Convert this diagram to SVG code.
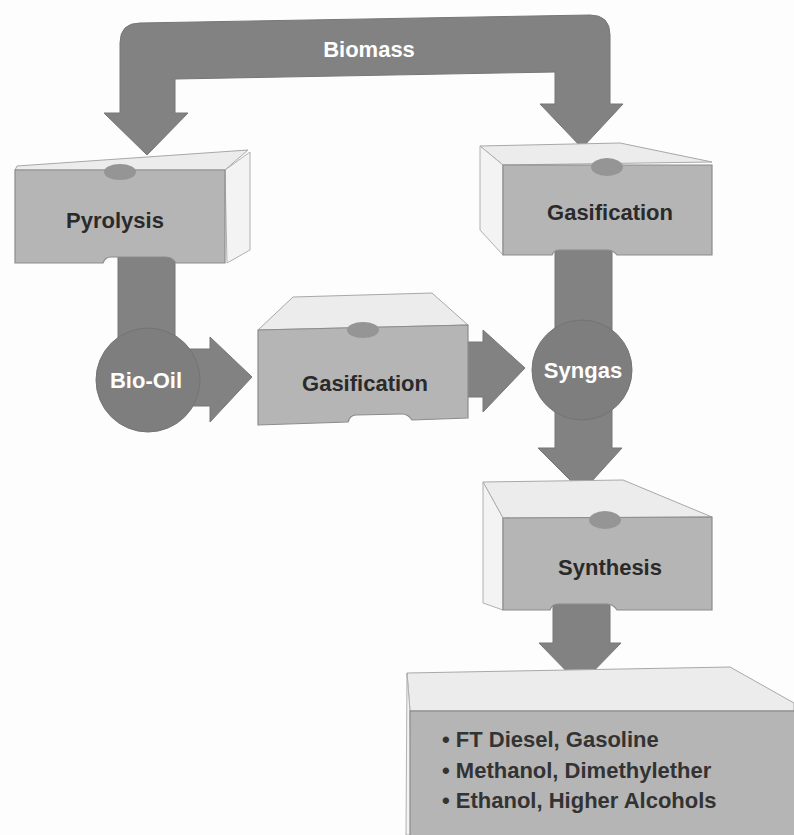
<svg xmlns="http://www.w3.org/2000/svg" width="794" height="835" viewBox="0 0 794 835">
<style>
.arrow{fill:#828282;stroke:#767676;stroke-width:1}
.blob{fill:#7e7e7e;stroke:#747474;stroke-width:1}
.front{fill:#b5b5b5;stroke:#8c8c8c;stroke-width:1.2}
.top{fill:#ececec;stroke:#a8a8a8;stroke-width:1}
.side{fill:#f3f3f3;stroke:#b0b0b0;stroke-width:1}
.notch{fill:#959595}
.lbl{font-family:"Liberation Sans",Arial,sans-serif;font-weight:bold;font-size:22px;fill:#2a2a2a;text-anchor:middle}
.wlbl{font-family:"Liberation Sans",Arial,sans-serif;font-weight:bold;font-size:22px;fill:#ffffff;text-anchor:middle}
.list{font-family:"Liberation Sans",Arial,sans-serif;font-weight:bold;font-size:22px;fill:#333333}
</style>
<rect width="794" height="835" fill="#fdfdfd"/>
<g id="connectors">
  <path class="arrow" d="M104,113 L120,113 L120,43 Q120,23 140,23 L590,15 Q610,15 610,35 L610,104 L623,104 L582,148 L540,104 L555,104 L555,72 L175,79 L175,113 L188,113 L147,155 Z"/>
  <path class="arrow" d="M118,255 L175,255 L175,349 L210,349 L210,337 L252,377 L210,422 L210,406 L148,406 L118,380 Z"/>
  <path class="arrow" d="M460,342 L483,342 L483,330 L525,368 L483,412 L483,397 L460,397 Z"/>
  <path class="arrow" d="M555,248 L612,248 L612,448 L622,448 L582,492 L538,448 L555,448 Z"/>
  <path class="arrow" d="M553,600 L610,600 L610,643 L621,643 L580,685 L539,643 L553,643 Z"/>
</g>
<g id="biomass-label">
  <text class="wlbl" x="369" y="57">Biomass</text>
</g>
<g id="pyrolysis">
  <polygon class="top" points="15,170 17,166 248,150 225,170"/>
  <polygon class="side" points="225,170 250,152 250,250 227,263"/>
  <path class="front" d="M15,170 L225,170 L225,263 L176,263 Q172,257 166,257 L111,257 Q105,257 103,263 L15,263 Z"/>
  <ellipse class="notch" cx="120" cy="172" rx="16" ry="8"/>
  <text class="lbl" x="115" y="228">Pyrolysis</text>
</g>
<g id="gasification-1">
  <polygon class="top" points="503,165 480,146 620,143 712,162"/>
  <polygon class="side" points="480,146 503,165 503,255 480,230"/>
  <path class="front" d="M503,165 L712,165 L712,255 L617,255 Q613,250 607,250 L560,250 Q554,250 552,255 L503,255 Z"/>
  <ellipse class="notch" cx="607" cy="167" rx="16" ry="9"/>
  <text class="lbl" x="610" y="220">Gasification</text>
</g>
<g id="bio-oil">
  <circle class="blob" cx="148" cy="380" r="52"/>
  <text class="wlbl" x="146" y="388">Bio-Oil</text>
</g>
<g id="gasification-2">
  <polygon class="top" points="258,330 293,297 432,293 468,325"/>
  <path class="front" d="M258,330 L468,325 L468,418 L412,420 Q408,414 402,414 L356,415 Q350,415 348,422 L258,425 Z"/>
  <ellipse class="notch" cx="363" cy="330" rx="16" ry="8"/>
  <text class="lbl" x="365" y="391">Gasification</text>
</g>
<g id="syngas">
  <circle class="blob" cx="582" cy="370" r="50"/>
  <text class="wlbl" x="583" y="378">Syngas</text>
</g>
<g id="synthesis">
  <polygon class="top" points="503,518 483,482 623,480 712,517"/>
  <polygon class="side" points="483,482 503,518 503,610 483,603"/>
  <path class="front" d="M503,518 L712,517 L712,610 L617,610 Q613,604 607,604 L558,604 Q552,604 550,610 L503,610 Z"/>
  <ellipse class="notch" cx="605" cy="520" rx="16" ry="9"/>
  <text class="lbl" x="610" y="575">Synthesis</text>
</g>
<g id="products">
  <polygon class="top" points="410,711 407,673 730,667 794,703 794,711"/>
  <polygon class="side" points="407,673 410,711 412,835 406,835"/>
  <rect class="front" x="410" y="711" width="390" height="130"/>
  <text class="list" x="442" y="747">• FT Diesel, Gasoline</text>
  <text class="list" x="442" y="778">• Methanol, Dimethylether</text>
  <text class="list" x="442" y="808">• Ethanol, Higher Alcohols</text>
</g>
</svg>
